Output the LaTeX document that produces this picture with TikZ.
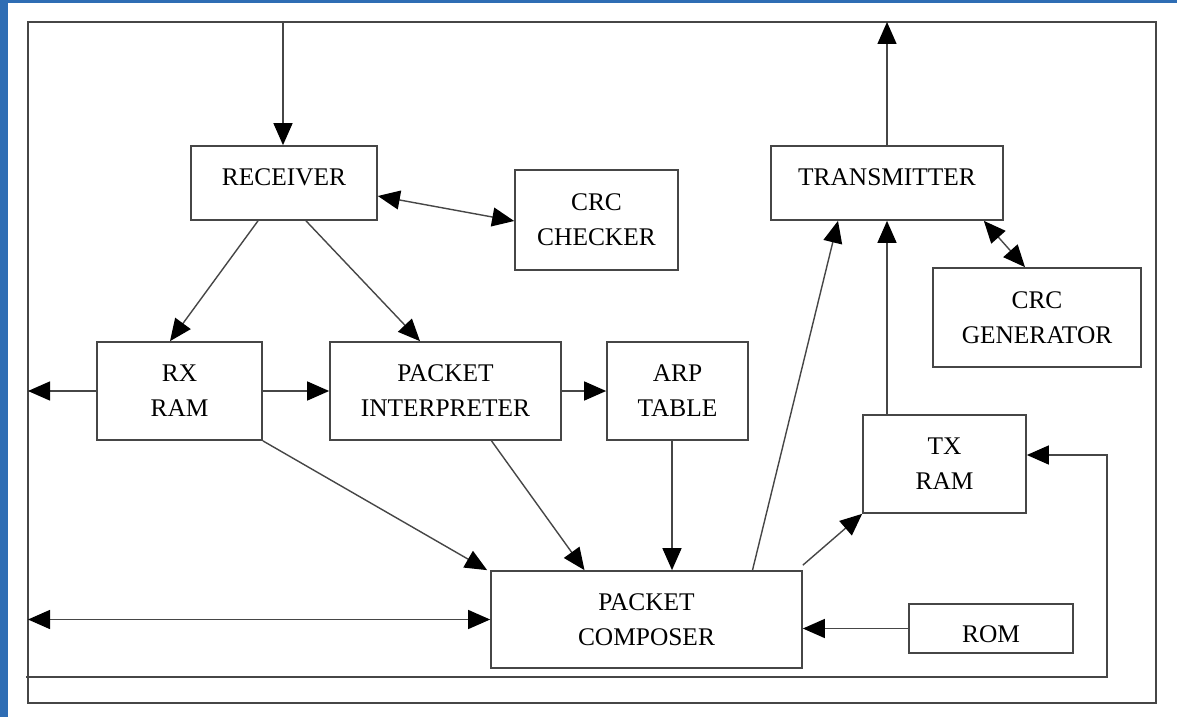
\documentclass[tikz,border=0pt]{standalone}
\usepackage{fontspec}
\setmainfont{Liberation Serif}
\usetikzlibrary{positioning, arrows.meta}
\definecolor{edgeblue}{RGB}{46,109,180}
\definecolor{linegray}{RGB}{70,70,70}

\begin{document}
\begin{tikzpicture}[
        x=0.5pt, y=-0.5pt,
        every node/.style={font=\fontsize{12.7}{17.5}\selectfont},
        blk/.style={draw=linegray, line width=0.85pt, rectangle, align=center, inner sep=0pt},
        arr/.style={draw=linegray, line width=0.7pt, -{Triangle[length=11pt, width=9.5pt, color=black, fill=black]}},
        darr/.style={draw=linegray, line width=0.7pt, {Triangle[length=11pt, width=9.5pt, color=black, fill=black]}-{Triangle[length=11pt, width=9.5pt, color=black, fill=black]}}
    ]

    \fill[white] (0,0) rectangle (1177,717);
    \fill[edgeblue] (0,0) rectangle (1177,3.5);
    \fill[edgeblue] (0,0) rectangle (7.5,717);
    \draw[linegray, line width=0.85pt] (28,22) rectangle (1156,703);

    \node[blk, minimum width=93pt, minimum height=37pt, text depth=6pt] (rcv) at (284,183) {RECEIVER};
    \node[blk, minimum width=116pt, minimum height=37pt, text depth=6pt] (tmt) at (887,183) {TRANSMITTER};
    \node[blk, minimum width=81.5pt, minimum height=50pt] (crcchk) at (596.5,220) {CRC\\CHECKER};
    \node[blk, minimum width=104pt, minimum height=49.5pt] (crcgen) at (1037,317.5) {CRC\\GENERATOR};
    \node[blk, minimum width=82.5pt, minimum height=49pt] (rxram) at (179.5,391) {RX\\RAM};
    \node[blk, minimum width=115.5pt, minimum height=49pt] (pint) at (445.5,391) {PACKET\\INTERPRETER};
    \node[blk, minimum width=70.5pt, minimum height=49pt] (arp) at (677.5,391) {ARP\\TABLE};
    \node[blk, minimum width=81.5pt, minimum height=49pt] (txram) at (944.5,464) {TX\\RAM};
    \node[blk, minimum width=155.5pt, minimum height=48.5pt] (pcomp) at (646.5,619.5) {PACKET\\COMPOSER};
    \node[blk, minimum width=82pt, minimum height=24.5pt, text height=14.4pt] (rom) at (991,628.5) {ROM};

    \coordinate (rxin) at (283,22);
    \coordinate (txout) at (887,22);
    \coordinate (rxside) at (28,391);
    \coordinate (busleft) at (28,619.5);
    \coordinate (loopL) at (26,677);
    \coordinate (loopR) at (1107,677);

    \draw[arr] (rxin) -- (rxin |- rcv.north);
    \draw[arr] (tmt.north) -- (txout);
    \draw[darr] ([yshift=-6.5pt]rcv.east) -- ([yshift=-0.5pt]crcchk.west);
    \draw[arr] ([xshift=-13pt]rcv.south) -- ([xshift=-4.75pt]rxram.north);
    \draw[arr] ([xshift=11pt]rcv.south) -- ([xshift=-12.75pt]pint.north);
    \draw[arr] (rxram.east) -- (pint.west);
    \draw[arr] (pint.east) -- (arp.west);
    \draw[arr] (rxram.west) -- (rxside);
    \draw[arr] (rxram.south east) -- ([xshift=-1.5pt]pcomp.north west);
    \draw[arr] ([xshift=23pt]pint.south) -- ([xshift=-31pt]pcomp.north);
    \draw[arr] ([xshift=-2.75pt]arp.south) -- ([xshift=-2.75pt]arp.south |- pcomp.north);
    \draw[arr] ([xshift=53pt]pcomp.north) -- ([xshift=-24.5pt]tmt.south);
    \draw[arr] ([yshift=2.5pt]pcomp.north east) -- (txram.south west);
    \draw[arr] (txram.north -| tmt.south) -- (tmt.south);
    \draw[darr] ([xshift=-10pt]tmt.south east) -- ([xshift=-6pt]crcgen.north);
    \draw[arr] (rom.west) -- (rom.west -| pcomp.east);
    \draw[darr] (busleft) -- (pcomp.west);
    \draw[arr] (loopL) -- (loopR) |- ([yshift=4.5pt]txram.east);

\end{tikzpicture}
\end{document}
